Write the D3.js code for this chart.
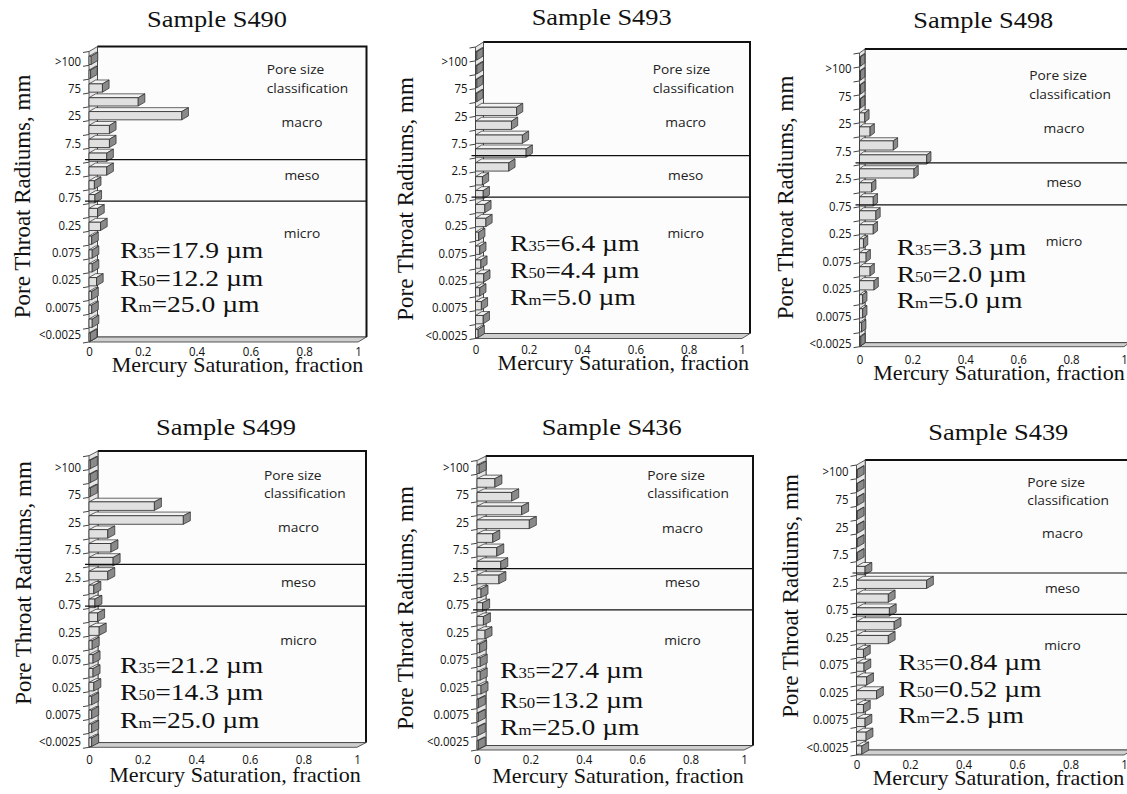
<!DOCTYPE html>
<html>
<head>
<meta charset="utf-8">
<script src="https://cdn.jsdelivr.net/npm/d3@7"></script>
<style>
  body { margin: 0; background: #fff; }
  svg { display: block; }
</style>
</head>
<body>
<svg id="chart" width="1127" height="794"></svg>
<script>
// Pore-throat radius bins (µm), largest at the top of each panel
const bins = [">100", "100", "75", "50", "25", "10", "7.5", "5", "2.5", "1", "0.75",
              "0.5", "0.25", "0.1", "0.075", "0.05", "0.025", "0.01", "0.0075", "0.005", "<0.0025"];
const radiusTicks = [">100", "75", "25", "7.5", "2.5", "0.75", "0.25", "0.075", "0.025", "0.0075", "<0.0025"];
const saturationTicks = [0, 0.2, 0.4, 0.6, 0.8, 1];
const classNames = ["macro", "meso", "micro"];

const sampleNames = ["S490", "S493", "S498", "S499", "S436", "S439"];

// Incremental mercury saturation (fraction) per bin, top to bottom
const satS490 = [0.008, 0.006, 0.05, 0.183, 0.345, 0.076, 0.076, 0.066, 0.066, 0.02, 0.022,
                 0.032, 0.043, 0.01, 0.012, 0.012, 0.028, 0.01, 0.01, 0.012, 0.005];
const satS493 = [0.005, 0.005, 0.005, 0.005, 0.154, 0.135, 0.176, 0.19, 0.125, 0.026, 0.029,
                 0.035, 0.039, 0.012, 0.016, 0.02, 0.031, 0.016, 0.022, 0.029, 0.01];
const satS498 = [0.004, 0.004, 0.004, 0.004, 0.02, 0.04, 0.128, 0.254, 0.206, 0.046, 0.052,
                 0.062, 0.052, 0.015, 0.025, 0.04, 0.055, 0.012, 0.012, 0.008, 0.005];
const satS499 = [0.005, 0.005, 0.005, 0.244, 0.352, 0.07, 0.082, 0.09, 0.07, 0.018, 0.022,
                 0.032, 0.038, 0.012, 0.015, 0.015, 0.018, 0.01, 0.01, 0.01, 0.01];
const satS436 = [0.008, 0.067, 0.13, 0.167, 0.196, 0.059, 0.074, 0.089, 0.082, 0.015, 0.021,
                 0.024, 0.03, 0.01, 0.012, 0.012, 0.015, 0.005, 0.005, 0.005, 0.005];
const satS439 = [0.003, 0.003, 0.003, 0.003, 0.003, 0.003, 0.003, 0.032, 0.262, 0.119, 0.123,
                 0.141, 0.119, 0.026, 0.028, 0.038, 0.075, 0.026, 0.032, 0.036, 0.02];
const saturation = [satS490, satS493, satS498, satS499, satS436, satS439];

// Characteristic radii (µm)
const r35 = ["17.9", "6.4", "3.3", "21.2", "27.4", "0.84"];
const r50 = ["12.2", "4.4", "2.0", "14.3", "13.2", "0.52"];
const rm  = ["25.0", "5.0", "5.0", "25.0", "25.0", "2.5"];

// Panel placement: front plane of the 3-D box, depth offset and text anchors
const layout = [
  {x0: 89,    x1: 358,  yTop: 51.5,  yBot: 342,   dx: 8.5, dy: -5,
   title: [217, 27],     yTitle: [30, 196.5],  xTitle: [237.5, 372],  xTickY: 356,
   lab: [61, 334.3],     pore: [266.7, 74, 92.7],   classX: 302,   classY: [127.3, 180, 238.3],
   rX: 120,   rY: [258, 286, 312]},
  {x0: 475.5, x1: 742,  yTop: 47,    yBot: 338.5, dx: 8,   dy: -5,
   title: [601.7, 25],   yTitle: [413, 199],   xTitle: [623.3, 370],  xTickY: 354,
   lab: [61, 335],       pore: [652.7, 74, 92.7],   classX: 685.7, classY: [127.3, 180, 238.3],
   rX: 510,   rY: [250.7, 278.3, 305]},
  {x0: 859.5, x1: 1124, yTop: 53,    yBot: 346.7, dx: 5.5, dy: -4,
   title: [983.3, 28.3], yTitle: [793, 197.5], xTitle: [999, 380],    xTickY: 364,
   lab: [68.3, 343.3],   pore: [1029.3, 80, 99.3],  classX: 1064,  classY: [133.3, 186.7, 246],
   rX: 896.7, rY: [255, 281.7, 308.3]},
  {x0: 89,    x1: 357,  yTop: 455.7, yBot: 747.3, dx: 9,   dy: -4.7,
   title: [226, 435],    yTitle: [30.5, 583],  xTitle: [235, 781.7],  xTickY: 764,
   lab: [467.3, 741.7],  pore: [264, 480, 498.3],   classX: 298.5, classY: [531.7, 586.7, 645],
   rX: 120,   rY: [673.3, 700, 728.3]},
  {x0: 477,   x1: 744,  yTop: 460.5, yBot: 750,   dx: 9,   dy: -4.5,
   title: [611.7, 435],  yTitle: [413, 608],   xTitle: [618, 782.7],  xTickY: 764,
   lab: [467.3, 741.7],  pore: [647.3, 480, 498.3], classX: 682.5, classY: [533.3, 586.7, 645],
   rX: 500,   rY: [678.3, 708.3, 735]},
  {x0: 856.5, x1: 1124, yTop: 465,   yBot: 755,   dx: 8.7, dy: -5,
   title: [998.3, 440],  yTitle: [798, 596],   xTitle: [998.5, 785], xTickY: 769,
   lab: [471.7, 747.3],  pore: [1027.3, 486.7, 505], classX: 1062.5, classY: [538.3, 593.3, 650],
   rX: 898.3, rY: [670, 696.7, 723.3]}
];

const SERIF = "'Liberation Serif', 'Times New Roman', serif";
const SANS = "'Open Sans', 'Noto Sans', sans-serif";

const svg = d3.select("#chart");

layout.forEach((L, k) => drawPanel(L, k));

function poly(points) {
  return "M" + points.map(p => p.join(",")).join("L") + "Z";
}

function drawPanel(L, k) {
  const g = svg.append("g").attr("class", "panel");
  const vals = saturation[k];
  const x = d3.scaleLinear().domain([0, 1]).range([L.x0, L.x1]);
  const y = d3.scaleBand().domain(bins).range([L.yTop, L.yBot]);
  const yLab = d3.scalePoint().domain(radiusTicks).range(L.lab);
  const dx = L.dx, dy = L.dy;
  const bw = y.bandwidth();

  // back wall
  g.append("rect")
    .attr("x", x(0) + dx).attr("y", L.yTop + dy)
    .attr("width", x(1) - x(0)).attr("height", L.yBot - L.yTop)
    .attr("fill", "#fcfcfc").attr("stroke", "#333").attr("stroke-width", 0.8);
  g.append("path")
    .attr("d", `M${x(0) + dx},${L.yTop + dy}H${x(1) + dx}V${L.yBot + dy}`)
    .attr("fill", "none").attr("stroke", "#111").attr("stroke-width", 2);

  // floor
  g.append("path")
    .attr("d", poly([[x(0), L.yBot], [x(1), L.yBot], [x(1) + dx, L.yBot + dy], [x(0) + dx, L.yBot + dy]]))
    .attr("fill", "#cfcfcf").attr("stroke", "#333").attr("stroke-width", 0.8);

  // left wall
  g.append("path")
    .attr("d", poly([[x(0), L.yBot], [x(0), L.yTop], [x(0) + dx, L.yTop + dy], [x(0) + dx, L.yBot + dy]]))
    .attr("fill", "#e6e6e6").attr("stroke", "#333").attr("stroke-width", 0.8);

  // category tick marks at the bin boundaries
  const edges = bins.map(b => y(b)).concat([L.yBot]);
  g.append("g").selectAll("line").data(edges).join("line")
    .attr("x1", x(0) - 6).attr("x2", x(0))
    .attr("y1", d => d + 1).attr("y2", d => d)
    .attr("stroke", "#444").attr("stroke-width", 1);

  // 3-D bars
  const bdx = dx * 0.78, bdy = dy * 0.78;
  const bars = g.append("g").selectAll("g").data(vals).join("g");
  const geom = (v, i) => {
    const top = y(bins[i]) + bw * 0.06 - bdy;
    const bot = y(bins[i]) + bw * 0.94;
    return {l: x(0), r: x(v), top, bot};
  };
  bars.append("path") // top face
    .attr("d", (v, i) => { const b = geom(v, i);
      return poly([[b.l, b.top], [b.r, b.top], [b.r + bdx, b.top + bdy], [b.l + bdx, b.top + bdy]]); })
    .attr("fill", "#f2f2f2").attr("stroke", "#2a2a2a").attr("stroke-width", 0.7);
  bars.append("path") // front face
    .attr("d", (v, i) => { const b = geom(v, i);
      return poly([[b.l, b.top], [b.r, b.top], [b.r, b.bot], [b.l, b.bot]]); })
    .attr("fill", "#e0e0e0").attr("stroke", "#2a2a2a").attr("stroke-width", 0.8);
  bars.append("path") // end face
    .attr("d", (v, i) => { const b = geom(v, i);
      return poly([[b.r, b.top], [b.r + bdx, b.top + bdy], [b.r + bdx, b.bot + bdy], [b.r, b.bot]]); })
    .attr("fill", "#8a8a8a").attr("stroke", "#2a2a2a").attr("stroke-width", 0.7);

  // pore-size class boundaries (macro/meso, meso/micro)
  const bounds = [y(bins[8]), y(bins[11])].map(v => v + dy / 2);
  g.append("g").selectAll("line").data(bounds).join("line")
    .attr("x1", x(0) - 4).attr("x2", x(1) + dx)
    .attr("y1", d => d).attr("y2", d => d)
    .attr("stroke", "#111").attr("stroke-width", 1.2);

  // radius tick labels
  const ya = g.append("g")
    .attr("transform", `translate(${x(0) - 8},0)`)
    .call(d3.axisLeft(yLab).tickSize(0).tickPadding(0));
  ya.select(".domain").remove();
  ya.attr("font-family", null).attr("font-size", null);
  ya.selectAll("text")
    .attr("font-family", SANS).attr("font-size", 12).attr("fill", "#111")
    .attr("dy", "0.35em").attr("transform", "scale(0.95,1)");

  // saturation tick labels
  const xa = g.append("g")
    .attr("transform", `translate(0,${L.xTickY})`)
    .call(d3.axisBottom(x).tickValues(saturationTicks).tickSize(0).tickPadding(0).tickFormat(d3.format("~g")));
  xa.select(".domain").remove();
  xa.attr("font-family", null).attr("font-size", null);
  xa.selectAll("text")
    .attr("font-family", SANS).attr("font-size", 12.5).attr("fill", "#111")
    .attr("y", 0).attr("dy", 0).attr("transform", "scale(0.92,1)");

  // panel title
  g.append("text")
    .attr("transform", `translate(${L.title[0]},${L.title[1]}) scale(1.1,1)`)
    .attr("text-anchor", "middle").attr("font-family", SERIF).attr("font-size", 24).attr("fill", "#111")
    .text("Sample " + sampleNames[k]);

  // axis titles
  g.append("text")
    .attr("transform", `translate(${L.yTitle[0]},${L.yTitle[1]}) rotate(-90)`)
    .attr("text-anchor", "middle").attr("font-family", SERIF).attr("font-size", 23).attr("fill", "#111")
    .text("Pore Throat Radiums, mm");
  g.append("text")
    .attr("transform", `translate(${L.xTitle[0]},${L.xTitle[1]}) scale(1.05,1)`)
    .attr("text-anchor", "middle").attr("font-family", SERIF).attr("font-size", 21).attr("fill", "#111")
    .text("Mercury Saturation, fraction");

  // pore size classification notes
  const sans = (tx, ty, anchor, str) => g.append("text")
    .attr("transform", `translate(${tx},${ty}) scale(1.1,1)`)
    .attr("text-anchor", anchor).attr("font-family", SANS).attr("font-size", 12.5).attr("fill", "#222")
    .text(str);
  sans(L.pore[0], L.pore[1], "start", "Pore size");
  sans(L.pore[0], L.pore[2], "start", "classification");
  classNames.forEach((c, j) => sans(L.classX, L.classY[j], "middle", c));

  // characteristic radii
  const rLines = [["35", r35[k]], ["50", r50[k]], ["m", rm[k]]];
  rLines.forEach(([sub, val], j) => {
    const t = g.append("text")
      .attr("transform", `translate(${L.rX},${L.rY[j]}) scale(1.2,1)`)
      .attr("font-family", SERIF).attr("font-size", 23).attr("fill", "#111");
    t.append("tspan").text("R");
    t.append("tspan").attr("font-size", 14).text(sub);
    t.append("tspan").text("=" + val + " \u00b5m");
  });
}
</script>
</body>
</html>
